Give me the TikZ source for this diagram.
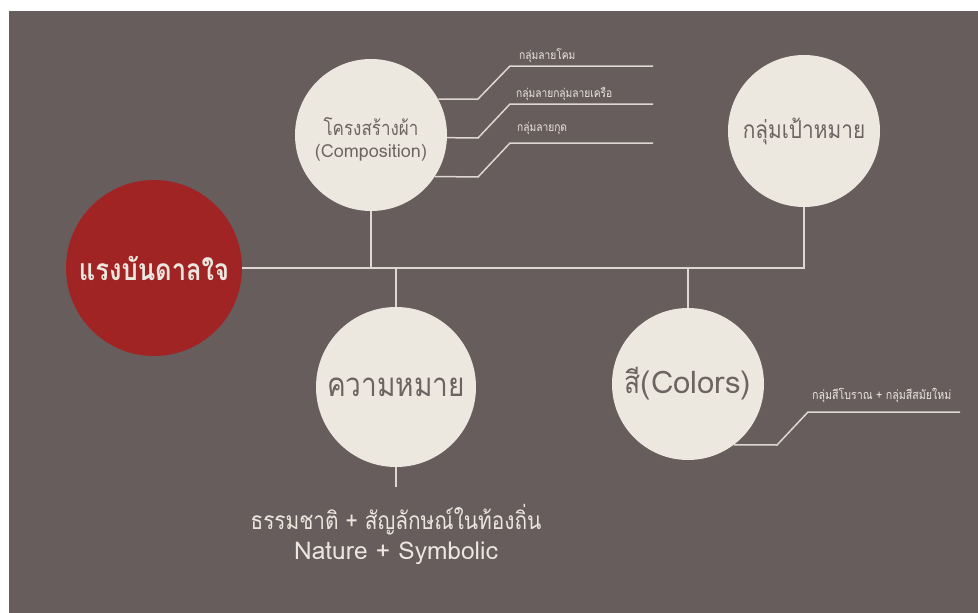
\documentclass[tikz,border=0pt]{standalone}
\usepackage{fontspec}
\setmainfont[Script=Thai]{Loma}
\newfontfamily\thaifont[Script=Thai]{Loma}
\newfontfamily\thaicond[Script=Thai,FakeStretch=0.85]{Loma}
\definecolor{bgc}{RGB}{103,93,92}
\definecolor{redc}{RGB}{160,36,36}
\definecolor{creamc}{RGB}{236,232,223}
\definecolor{darktxt}{RGB}{108,100,97}
\definecolor{lighttxt}{RGB}{236,230,222}
\definecolor{linec}{RGB}{222,215,211}
\tikzset{
  redball/.style={circle, fill=redc, inner sep=0pt, minimum size=176pt, text=lighttxt, font=\thaicond\bfseries\fontsize{30}{34}\selectfont},
  creamball/.style={circle, fill=creamc, inner sep=0pt, text=darktxt, align=center},
  conn/.style={draw=linec, line width=1.5pt},
  smalllbl/.style={text=lighttxt, inner sep=0pt, font=\thaicond\fontsize{12}{14}\selectfont},
  biglbl/.style={text=lighttxt, inner sep=0pt}
}
\begin{document}
\begin{tikzpicture}[x=1pt,y=-1pt]
\useasboundingbox (0,0) rectangle (978,613);
\fill[white] (0,0) rectangle (978,613);
\fill[bgc] (9,11) rectangle (978,613);
% circles
\node[redball] (red) at (154,268) {แรงบันดาลใจ};
\node[creamball, minimum size=152pt, font=\thaifont\fontsize{18}{22}\selectfont] (comp) at (371,135)
  {\raisebox{-4pt}[\height][\depth]{\thaicond\fontsize{20}{22}\selectfont โครงสร้างผ้า}\\
   \raisebox{-4pt}[\height][\depth]{(Composition)}};
\node[creamball, minimum size=152pt, font=\thaicond\fontsize{24.5}{30}\selectfont] (tgt) at (804,131) {กลุ่มเป้าหมาย};
\node[creamball, minimum size=160pt, font=\thaicond\fontsize{33}{36}\selectfont] (mean) at (396,387) {ความหมาย};
\node[creamball, minimum size=152pt, font=\thaifont\fontsize{31}{34}\selectfont] (col) at (688,384) {{\thaicond สี}(Colors)};
% main connectors
\draw[conn] (red) -- (tgt |- red) -- (tgt);
\draw[conn] (comp) -- (comp |- red);
\draw[conn] (mean) -- (mean |- red);
\draw[conn] (col) -- (col |- red);
% composition branches
\coordinate (b1a) at (478,99);  \coordinate (b1b) at (510,66);  \coordinate (b1c) at (653,66);
\coordinate (b2a) at (478,138); \coordinate (b2b) at (510,104); \coordinate (b2c) at (653,104);
\coordinate (b3a) at (478,177); \coordinate (b3b) at (510,143); \coordinate (b3c) at (653,143);
\draw[conn] (comp.28.3) -- (b1a) -- (b1b) -- (b1c);
\draw[conn] (comp.-2.3) -- (b2a) -- (b2b) -- (b2c);
\draw[conn] (comp.-33.5) -- (b3a) -- (b3b) -- (b3c);
\node[smalllbl, anchor=west] (l1) at (519,56) {กลุ่มลายโคม};
\node[smalllbl, anchor=west] (l2) at (516,94) {กลุ่มลายกลุ่มลายเครือ};
\node[smalllbl, anchor=west] (l3) at (517,128) {กลุ่มลายกุด};
% colors branch
\coordinate (c1a) at (777,445); \coordinate (c1b) at (808,412); \coordinate (c1c) at (960,412);
\draw[conn] (col.-53.4) -- (c1a) -- (c1b) -- (c1c);
\node[smalllbl, anchor=west, font=\thaicond\fontsize{12.5}{14}\selectfont] (l4) at (812,395) {กลุ่มสีโบราณ + กลุ่มสีสมัยใหม่};
% meaning branch
\coordinate (mend) at (396,487);
\draw[conn] (mean) -- (mend);
\node[biglbl, font=\thaicond\fontsize{24.5}{28}\selectfont] (nat1) at (396,520) {ธรรมชาติ + สัญลักษณ์ในท้องถิ่น};
\node[biglbl, font=\thaifont\fontsize{24.5}{28}\selectfont] (nat2) at (396,553) {Nature + Symbolic};
\end{tikzpicture}
\end{document}
